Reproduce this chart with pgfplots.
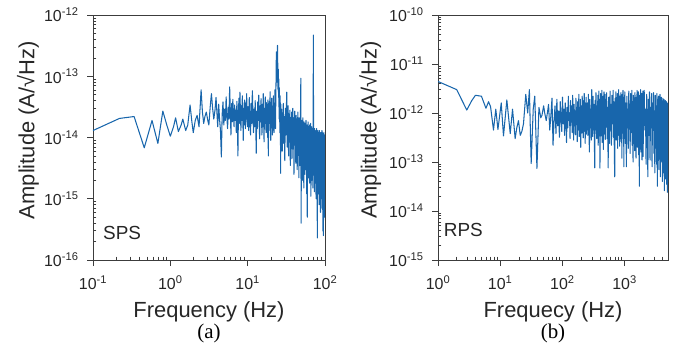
\documentclass[border=0pt]{standalone}
\usepackage{fontspec}
\setmainfont{Liberation Sans}
\newfontfamily\seriffont{Liberation Serif}
\usepackage{pgfplots}
\pgfplotsset{compat=1.18}
\definecolor{lineblue}{RGB}{24,102,172}
\definecolor{axgray}{RGB}{60,60,60}
\begin{document}
\begin{tikzpicture}
\path (0bp,0bp) rectangle (684bp,361bp);
% ---------------- (a) SPS ----------------
\begin{axis}[at={(93bp,101bp)}, anchor=south west,
  scale only axis, width=232bp, height=245bp,
  xmode=log, ymode=log,
  axis line style={axgray, line width=0.8pt},
  tick pos=left, tick align=outside,
  major tick length=6bp, minor tick length=-3.5bp,
  every tick/.append style={axgray, line width=0.6pt},
  tick label style={font=\fontsize{16}{18}\selectfont, text=black!85},
  xticklabel style={yshift=-6bp},
  yticklabel style={xshift=-5bp},
  label style={font=\fontsize{22}{24}\selectfont, text=black!85},
  xmin=0.1, xmax=100, ymin=1e-16, ymax=1e-12,
  xtick={0.1,1,10,100},
  xticklabels={10\textsuperscript{-1},10\textsuperscript{0},10\textsuperscript{1},10\textsuperscript{2}},
  minor xtick={0.2,0.3,0.4,0.5,0.6,0.7,0.8,0.9,2,3,4,5,6,7,8,9,20,30,40,50,60,70,80,90},
  ytick={1e-16,1e-15,1e-14,1e-13,1e-12},
  yticklabels={10\textsuperscript{-16},10\textsuperscript{-15},10\textsuperscript{-14},10\textsuperscript{-13},10\textsuperscript{-12}},
  minor ytick={2e-16,3e-16,4e-16,5e-16,6e-16,7e-16,8e-16,9e-16,2e-15,3e-15,4e-15,5e-15,6e-15,7e-15,8e-15,9e-15,2e-14,3e-14,4e-14,5e-14,6e-14,7e-14,8e-14,9e-14,2e-13,3e-13,4e-13,5e-13,6e-13,7e-13,8e-13,9e-13},
  xlabel={Frequency (Hz)},
  xlabel style={at={(axis description cs:0.5,-0.21)}, anchor=center},
  ylabel={Amplitude (A/√Hz)},
  ylabel style={at={(axis description cs:-0.28,0.53)}, anchor=center},
]
\addplot[lineblue, line width=1.05bp, line join=round] coordinates {
(0.10,1.30e-14)(0.22,2.05e-14)(0.34,2.20e-14)(0.46,6.8e-15)(0.58,1.9e-14)(0.69,8.0e-15)(0.80,2.7e-14)(0.90,1.6e-14)(1.00,1.05e-14)(1.10,1.5e-14)(1.17,2.1e-14)(1.27,1.25e-14)(1.38,1.6e-14)(1.45,2.0e-14)(1.58,1.3e-14)(1.68,1.6e-14)(1.80,3.4e-14)(1.90,1.8e-14)(1.98,1.2e-14)(2.10,1.9e-14)(2.22,2.3e-14)(2.35,1.5e-14)(2.50,6.0e-14)(2.60,2.6e-14)(2.70,1.7e-14)(2.80,2.2e-14)(2.92,2.6e-14)(3.05,1.9e-14)(3.15,1.6e-14)(3.28,3.2e-14)(3.40,5.2e-14)(3.52,3.0e-14)(3.65,2.0e-14)(3.78,2.8e-14)(3.90,4.5e-14)(4.00,2.6e-14)
(4.10,1.5e-14)(4.22,3.5e-14)(4.33,2.0e-14)(4.45,1.3e-14)(4.57,4.8e-15)(4.68,2.4e-14)(4.80,3.8e-14)(4.92,1.6e-14)(5.03,2.9e-14)(5.15,1.9e-14)(5.27,4.6e-14)(5.38,2.2e-14)(5.50,1.4e-14)(5.62,3.1e-14)(5.73,2.0e-14)(5.85,6.7e-14)(5.97,2.6e-14)(6.08,1.1e-14)(6.20,3.6e-14)(6.32,1.8e-14)(6.43,4.2e-14)(6.55,2.3e-14)(6.67,1.5e-14)(6.78,3.4e-14)(6.90,1.9e-14)(7.02,2.8e-14)(7.13,1.2e-14)(7.25,3.9e-14)(7.37,2.1e-14)(7.48,5.0e-15)(7.60,2.6e-14)(7.72,4.4e-14)(7.83,1.7e-14)(7.95,5.5e-14)(8.07,2.4e-14)(8.18,1.3e-14)(8.30,3.3e-14)(8.42,1.9e-14)(8.53,4.8e-14)(8.65,2.2e-14)(8.77,9.0e-15)(8.88,3.0e-14)(9.00,1.6e-14)(9.12,4.1e-14)(9.23,2.5e-14)(9.35,1.4e-14)(9.47,3.7e-14)(9.58,2.0e-14)(9.70,5.2e-14)(9.82,2.3e-14)(9.93,1.5e-14)
(10.1,3.2e-14)(10.3,1.3e-14)(10.5,4.5e-14)(10.7,2.0e-14)(10.9,1.1e-14)(11.1,3.6e-14)(11.3,1.7e-14)(11.5,5.8e-14)(11.7,2.4e-14)(11.9,1.2e-14)(12.1,2.9e-14)(12.3,1.5e-14)(12.5,4.0e-14)(12.7,2.1e-14)(12.9,5.5e-15)(13.1,2.7e-14)(13.3,1.4e-14)(13.5,3.8e-14)(13.7,1.9e-14)(13.9,4.9e-14)(14.1,1.6e-14)(14.3,9.5e-15)(14.5,3.3e-14)(14.7,1.8e-14)(14.9,4.3e-14)(15.1,2.2e-14)(15.3,1.1e-14)(15.5,3.5e-14)(15.7,1.5e-14)(15.9,5.2e-14)(16.1,2.0e-14)(16.3,8.5e-15)(16.5,3.0e-14)(16.7,1.7e-14)(16.9,4.6e-14)(17.1,2.3e-14)(17.3,1.2e-14)(17.5,3.7e-14)(17.7,1.4e-14)(17.9,2.8e-14)(18.1,1.0e-14)(18.3,4.1e-14)(18.5,5.0e-15)(18.7,2.5e-14)(18.9,1.3e-14)(19.1,3.9e-14)(19.3,1.8e-14)(19.5,5.6e-14)(19.7,2.1e-14)(19.9,9.0e-15)(20.1,3.4e-14)(20.3,1.6e-14)(20.5,4.4e-14)(20.7,1.9e-14)(20.9,1.1e-14)(21.1,3.1e-14)(21.3,1.5e-14)(21.5,4.8e-14)(21.7,2.2e-14)(21.9,1.2e-14)(22.1,3.6e-14)(22.3,1.7e-14)(22.5,6.0e-14)(22.7,2.4e-14)(22.9,1.4e-14)(23.1,4.0e-14)(23.3,9.0e-14)(23.5,2.5e-13)(23.7,1.2e-13)(23.9,2.2e-13)(24.1,8.0e-14)(24.3,3.2e-13)(24.5,1.5e-13)(24.7,6.0e-14)(24.9,1.3e-13)(25.1,4.5e-14)(25.3,9.0e-14)(25.5,2.0e-14)(25.7,6.5e-14)(25.9,3.0e-14)(26.1,1.2e-14)(26.3,4.8e-14)(26.5,2.2e-14)(26.7,2.6e-15)(26.9,3.5e-14)(27.1,1.4e-14)
(27.5,2.9e-14)(28.0,6.0e-15)(28.4,1.8e-14)(28.9,3.6e-14)(29.3,8.0e-15)(29.8,2.2e-14)(30.2,4.2e-15)(30.7,3.0e-14)(31.1,1.1e-14)(31.6,2.5e-14)(32.0,5.5e-14)(32.5,7.0e-15)(32.9,1.9e-14)(33.4,3.3e-14)(33.8,5.0e-15)(34.3,2.4e-14)(34.7,1.3e-14)(35.2,2.8e-14)(35.6,3.5e-15)(36.1,2.0e-14)(36.5,9.0e-15)(37.0,2.6e-14)(37.4,4.5e-15)(37.9,1.6e-14)(38.3,3.0e-14)(38.8,6.5e-15)(39.2,2.1e-14)(39.7,2.5e-15)(40.1,1.7e-14)(40.6,2.7e-14)(41.0,7.5e-15)(41.5,1.9e-14)(41.9,3.8e-15)(42.4,2.3e-14)(42.8,1.0e-14)(43.3,2.0e-14)(43.7,3.0e-15)(44.2,1.5e-14)(44.6,2.6e-14)(45.1,5.5e-15)(45.5,1.8e-14)(46.0,2.2e-15)(46.4,2.1e-14)(46.9,8.0e-15)(47.3,1.6e-14)(47.8,3.5e-15)(48.2,2.4e-14)(48.7,9.3e-14)(49.1,4.0e-16)(49.6,1.4e-14)(50.0,6.0e-15)(50.5,1.9e-14)(50.9,2.0e-15)(51.4,1.2e-14)(51.8,2.1e-14)(52.3,4.5e-15)(52.7,1.5e-14)(53.2,1.5e-15)(53.6,1.8e-14)(54.1,7.0e-15)(54.5,1.3e-14)(55.0,2.5e-15)(55.4,1.7e-14)(55.9,1.0e-14)(56.3,3.0e-15)(56.8,1.9e-14)(57.2,5.5e-15)(57.7,1.1e-14)(58.1,1.2e-15)(58.6,1.6e-14)(59.0,5.0e-16)(59.5,1.4e-14)(59.9,6.5e-15)(60.4,1.8e-14)(60.8,2.2e-15)(61.3,1.2e-14)(61.7,1.5e-14)(62.2,4.0e-15)(62.6,1.0e-14)(63.1,1.8e-15)(63.5,1.6e-14)(64.0,7.5e-15)(64.4,1.3e-14)(64.9,2.8e-15)(65.3,1.7e-14)(65.8,1.1e-15)(66.2,1.2e-14)(66.7,5.0e-15)(67.1,1.5e-14)(67.6,2.0e-15)(68.0,1.1e-14)(68.5,1.4e-14)(68.9,3.5e-15)(69.4,1.0e-14)(69.8,1.5e-15)(70.3,1.3e-14)(70.7,4.7e-13)(71.2,6.0e-15)(71.6,1.2e-14)(72.1,2.4e-15)(72.5,9.5e-15)(73.0,1.3e-15)(73.4,1.4e-14)(73.9,6.0e-15)(74.3,1.1e-14)(74.8,1.8e-15)(75.2,1.3e-14)(75.7,4.0e-15)(76.1,9.0e-15)(76.6,1.0e-15)(77.0,1.2e-14)(77.5,5.5e-15)(77.9,1.4e-14)(78.4,2.2e-15)(78.8,1.0e-14)(79.3,7.0e-16)(79.7,2.3e-16)(80.2,1.1e-14)(80.6,3.5e-15)(81.1,1.3e-14)(81.5,1.2e-15)(82.0,9.0e-15)(82.4,4.5e-15)(82.9,1.2e-14)(83.3,1.6e-15)(83.8,1.0e-14)(84.2,8.0e-16)(84.7,1.3e-14)(85.1,5.0e-15)(85.6,1.1e-14)(86.0,2.0e-15)(86.5,8.5e-15)(86.9,1.2e-14)(87.4,6.0e-16)(87.8,1.0e-14)(88.3,3.0e-15)(88.7,1.2e-14)(89.2,1.0e-15)(89.6,9.0e-15)(90.1,4.0e-15)(90.5,1.1e-14)(91.0,1.4e-15)(91.4,1.3e-14)(91.9,7.0e-16)(92.3,9.5e-15)(92.8,2.5e-15)(93.2,1.2e-14)(93.7,3.0e-16)(94.1,1.0e-14)(94.6,1.8e-15)(95.0,1.1e-14)(95.5,2.5e-16)(95.9,8.5e-15)(96.4,3.5e-15)(96.8,1.2e-14)(97.3,1.2e-15)(97.7,1.0e-14)(98.2,1.5e-15)(98.6,9.0e-15)(99.1,5.0e-16)(99.5,1.1e-14)(100,3.0e-15)
};
\node[anchor=west, inner sep=0pt, font=\fontsize{19}{21}\selectfont, text=black!85] at (rel axis cs:0.043,0.11) {SPS};
\end{axis}
% ---------------- (b) RPS ----------------
\begin{axis}[at={(438bp,101bp)}, anchor=south west,
  scale only axis, width=230bp, height=245bp,
  xmode=log, ymode=log,
  axis line style={axgray, line width=0.8pt},
  tick pos=left, tick align=outside,
  major tick length=6bp, minor tick length=-3.5bp,
  every tick/.append style={axgray, line width=0.6pt},
  tick label style={font=\fontsize{16}{18}\selectfont, text=black!85},
  xticklabel style={yshift=-6bp},
  yticklabel style={xshift=-5bp},
  label style={font=\fontsize{22}{24}\selectfont, text=black!85},
  xmin=1, xmax=5000, ymin=1e-15, ymax=1e-10,
  xtick={1,10,100,1000},
  xticklabels={10\textsuperscript{0},10\textsuperscript{1},10\textsuperscript{2},10\textsuperscript{3}},
  minor xtick={2,3,4,5,6,7,8,9,20,30,40,50,60,70,80,90,200,300,400,500,600,700,800,900,2000,3000,4000,5000},
  ytick={1e-15,1e-14,1e-13,1e-12,1e-11,1e-10},
  yticklabels={10\textsuperscript{-15},10\textsuperscript{-14},10\textsuperscript{-13},10\textsuperscript{-12},10\textsuperscript{-11},10\textsuperscript{-10}},
  minor ytick={2e-15,3e-15,4e-15,5e-15,6e-15,7e-15,8e-15,9e-15,2e-14,3e-14,4e-14,5e-14,6e-14,7e-14,8e-14,9e-14,2e-13,3e-13,4e-13,5e-13,6e-13,7e-13,8e-13,9e-13,2e-12,3e-12,4e-12,5e-12,6e-12,7e-12,8e-12,9e-12,2e-11,3e-11,4e-11,5e-11,6e-11,7e-11,8e-11,9e-11},
  xlabel={Frequecy (Hz)},
  xlabel style={at={(axis description cs:0.5,-0.21)}, anchor=center},
  ylabel={Amplitude (A/√Hz)},
  ylabel style={at={(axis description cs:-0.295,0.53)}, anchor=center},
]
\addplot[lineblue, line width=1.05bp, line join=round] coordinates {
(1,4.4e-12)(2,3.0e-12)(2.9,1.15e-12)(3.5,1.8e-12)(4,2.3e-12)(5,2.2e-12)(5.9,1.25e-12)(6.5,1.7e-12)(7.0,1.35e-12)(7.8,4.5e-13)(8.5,1.2e-12)(9.2,4.6e-13)(10.4,1.6e-12)(11.3,3.4e-13)(12.8,1.85e-12)(14.5,3.8e-13)(15.8,1.2e-12)(17.4,3.0e-13)(18.5,5.0e-13)(19.7,7.0e-13)(21,3.5e-13)(22.3,4.2e-13)(23.7,6.0e-13)(25.8,2.4e-12)(27.7,1.0e-12)(29.5,3.0e-12)(31.5,9.3e-14)(34,1.2e-12)(36,2.2e-12)(39,7.4e-14)(42,1.3e-12)(45,8.0e-13)(47,9.0e-13)(50,1.4e-12)(52,1.0e-12)(55,7.0e-13)(58,1.1e-12)
(60,1.5e-12)(62.7,4.5e-13)(65.4,9e-13)(68.1,2.0e-12)(70.8,2.2e-13)(73.5,7e-13)(76.2,1.4e-12)(78.9,3.8e-13)(81.6,1.9e-12)(84.3,5.5e-13)(87,1.1e-12)(89.7,3.2e-13)(92.4,1.7e-12)(95.1,8e-13)(97.8,4.2e-13)(100.5,2.1e-12)(103.2,6e-13)(105.9,1.2e-12)(108.6,3.5e-13)(111.3,1.6e-12)(114,9e-13)(116.7,2.5e-13)(119.4,1.3e-12)(122.1,5e-13)(124.8,2.2e-12)(127.5,7e-13)(130.2,1.0e-12)(132.9,3.0e-13)(135.6,1.8e-12)(138.3,6.5e-13)(141,1.4e-12)(143.7,4e-13)(146.4,2.3e-12)(149.1,8.5e-13)(151.8,2.8e-13)(154.5,1.5e-12)(157.2,5.5e-13)(159.9,1.1e-12)(162.6,3.6e-13)(165.3,2.0e-12)(168,7.5e-13)(170.7,1.3e-12)(173.4,2.6e-13)(176.1,1.7e-12)(178.8,4.5e-13)(181.5,9.5e-13)(184.2,2.4e-12)(186.9,3.3e-13)(189.6,1.2e-12)(192.3,6e-13)(195,1.9e-12)(197.7,2.0e-13)(200.4,1.4e-12)(203.1,8e-13)(205.8,3.9e-13)(208.5,2.2e-12)(211.2,5.2e-13)(213.9,1.0e-12)(216.6,3.1e-13)(219.3,1.8e-12)(222,7e-13)(224.7,2.5e-12)(227.4,4.2e-13)(230.1,1.3e-12)(232.8,2.4e-13)(235.5,1.6e-12)(238.2,6e-13)(240.9,2.1e-12)(243.6,3.7e-13)(246.3,1.1e-12)(249,8e-13)
(252,1.6e-12)(257,3.5e-13)(262,2.4e-12)(267,7e-13)(272,1.6e-13)(277,1.9e-12)(282,5e-13)(287,1.2e-12)(292,2.8e-13)(297,3.0e-12)(302,8e-13)(307,3.3e-13)(312,2.2e-12)(317,6e-13)(322,1.5e-12)(327,2.6e-13)(332,7.6e-14)(337,1.8e-12)(342,4.5e-13)(347,2.6e-12)(352,9e-13)(357,3.0e-13)(362,1.4e-12)(367,5.5e-13)(372,2.3e-12)(377,2.2e-13)(382,1.1e-12)(387,2.8e-12)(392,4e-13)(397,1.7e-12)(402,7.5e-14)(407,9e-13)(412,2.5e-12)(417,3.4e-13)(422,1.3e-12)(427,6.5e-13)(432,2.9e-12)(437,2.5e-13)(442,1.6e-12)(447,4.8e-13)(452,2.2e-12)(457,1.8e-13)(462,1.0e-12)(467,2.7e-12)(472,3.7e-13)(477,1.5e-12)(482,7e-13)(487,2.4e-12)(492,2.9e-13)(497,1.9e-12)
(505,5.5e-13)(515,2.6e-12)(525,3.0e-13)(535,1.3e-12)(545,7.6e-14)(555,2.1e-12)(565,8e-13)(575,2.4e-13)(585,2.8e-12)(595,4.5e-13)(605,1.5e-12)(615,2.2e-13)(625,2.3e-12)(635,6e-13)(645,1.1e-12)(655,2.9e-12)(665,3.2e-13)(675,1.7e-12)(685,1.6e-13)(695,5e-14)(705,2.0e-12)(715,7.5e-13)(725,2.7e-12)(735,2.8e-13)(745,1.2e-12)(755,5e-13)(765,2.5e-12)(775,1.9e-13)(785,1.6e-12)(795,9e-13)(805,3.0e-12)(815,3.5e-13)(825,1.4e-12)(835,2.1e-13)(845,2.2e-12)(855,6.5e-13)(865,1.0e-12)(875,2.6e-12)(885,2.6e-13)(895,1.8e-12)(905,1.2e-13)(915,2.4e-12)(925,5.5e-13)(935,1.3e-12)(945,2.9e-12)(955,3.0e-13)(965,1.5e-12)(975,8e-14)(985,2.1e-12)(995,7e-13)
(1010,2.7e-12)(1030,2.4e-13)(1050,1.6e-12)(1070,8e-14)(1090,2.2e-12)(1110,5e-13)(1130,1.2e-12)(1150,1.9e-13)(1170,2.8e-12)(1190,6.5e-13)(1210,1.4e-12)(1230,1.5e-13)(1250,2.5e-12)(1270,4e-13)(1290,1.1e-12)(1310,2.9e-12)(1330,2.2e-13)(1350,1.7e-12)(1370,1.0e-13)(1390,2.3e-12)(1410,7e-13)(1430,1.3e-12)(1450,1.7e-13)(1470,2.6e-12)(1490,4.5e-13)(1510,1.5e-12)(1530,1.2e-13)(1550,2.1e-12)(1570,8e-13)(1590,2.9e-12)(1610,2.0e-13)(1630,1.2e-12)(1650,5.5e-13)(1670,2.7e-12)(1690,1.4e-13)(1710,1.6e-12)(1730,3.2e-14)(1750,2.3e-12)(1770,6e-13)(1790,1.1e-12)(1810,3.0e-12)(1830,1.6e-13)(1850,1.4e-12)(1870,4e-13)(1890,2.5e-12)(1910,1.1e-13)(1930,1.8e-12)(1950,7e-13)(1970,2.8e-12)(1990,1.3e-13)
(2020,1.5e-12)(2070,2.9e-12)(2120,4.5e-13)(2170,1.2e-12)(2220,9e-14)(2270,2.4e-12)(2320,6e-13)(2370,5e-14)(2420,1.9e-12)(2470,3.5e-13)(2520,2.7e-12)(2570,1.1e-13)(2620,1.3e-12)(2670,5e-13)(2720,2.5e-12)(2770,8e-14)(2820,1.6e-12)(2870,7e-13)(2920,2.6e-12)(2970,1.5e-13)(3020,1.1e-12)(3070,6e-14)(3120,2.3e-12)(3170,4e-13)(3220,1.4e-12)(3270,9e-14)(3320,2.5e-12)(3370,3.2e-14)(3420,1.7e-12)(3470,5.5e-13)(3520,2.2e-12)(3570,7e-14)(3620,1.2e-12)(3670,3e-13)(3720,2.4e-12)(3770,5e-14)(3820,1.5e-12)(3870,6.5e-13)(3920,2.1e-12)(3970,1.0e-13)(4020,1.3e-12)(4070,4e-14)(4120,2.0e-12)(4170,3.5e-13)(4220,1.1e-12)(4270,6e-14)(4320,1.9e-12)(4370,2.6e-14)(4420,1.4e-12)(4470,5e-13)(4520,1.8e-12)(4570,4.5e-14)(4620,1.0e-12)(4670,2.2e-13)(4720,1.7e-12)(4770,3.5e-14)(4820,1.2e-12)(4870,2.4e-14)(4920,1.6e-12)(4970,4e-14)(5000,1.1e-12)
};
\node[anchor=west, inner sep=0pt, font=\fontsize{19}{21}\selectfont, text=black!85] at (rel axis cs:0.025,0.122) {RPS};
\end{axis}
\node[font=\seriffont\fontsize{21}{23}\selectfont] at (209bp,28bp) {(a)};
\node[font=\seriffont\fontsize{21}{23}\selectfont] at (553bp,28bp) {(b)};
\end{tikzpicture}
\end{document}
